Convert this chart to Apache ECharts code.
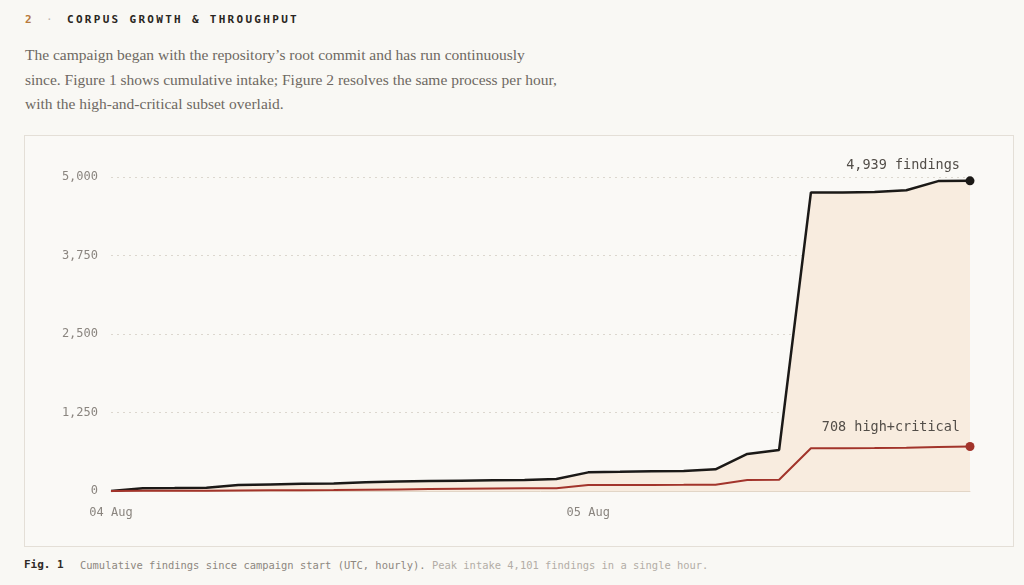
<!DOCTYPE html>
<html>
<head>
<meta charset="utf-8">
<script src="https://cdn.jsdelivr.net/npm/echarts@6/dist/echarts.min.js"></script>
<style>
  html, body { margin: 0; padding: 0; background: #f9f8f4; width: 1024px; height: 585px; overflow: hidden; }
  .abs { position: absolute; white-space: nowrap; }
  .mono { font-family: "DejaVu Sans Mono", "Liberation Mono", monospace; }
  #num { left: 25px; top: 14px; font-size: 11px; font-weight: bold; color: #b87a3d; line-height: 12px; }
  #dot { left: 46px; top: 14px; font-size: 11px; color: #bdb6ae; line-height: 12px; }
  #title { left: 67px; top: 14px; font-size: 11px; font-weight: bold; color: #2a2622; letter-spacing: 2.3px; line-height: 12px; }
  #para { left: 25px; top: 43px; font-family: "Liberation Serif", "DejaVu Serif", serif; font-size: 15.5px; line-height: 24.5px; color: #6e6862; }
  #box { position: absolute; left: 24px; top: 135px; width: 988px; height: 410px; border: 1px solid #e4dfd7; background: #faf9f6; }
  #chart { width: 988px; height: 410px; }
  #figlab { left: 24px; top: 558px; font-size: 11px; font-weight: bold; color: #2f2b27; line-height: 14px; }
  #figcap { left: 80px; top: 558px; font-size: 10.45px; color: #8d8780; line-height: 14px; }
  #figcap .light { color: #b3ada6; }
</style>
</head>
<body>
<div id="num" class="abs mono">2</div>
<div id="dot" class="abs mono">·</div>
<div id="title" class="abs mono">CORPUS GROWTH &amp; THROUGHPUT</div>
<div id="para" class="abs">The campaign began with the repository’s root commit and has run continuously<br>since. Figure 1 shows cumulative intake; Figure 2 resolves the same process per hour,<br>with the high-and-critical subset overlaid.</div>
<div id="box"><div id="chart"></div></div>
<div id="figlab" class="abs mono">Fig. 1</div>
<div id="figcap" class="abs mono">Cumulative findings since campaign start (UTC, hourly). <span class="light">Peak intake 4,101 findings in a single hour.</span></div>
<script>
// Time buckets (UTC)
const categories = [
  "04 Aug 00:00","04 Aug 01:36","04 Aug 03:12","04 Aug 04:48","04 Aug 06:24","04 Aug 08:00","04 Aug 09:36",
  "04 Aug 11:12","04 Aug 12:48","04 Aug 14:24","04 Aug 16:00","04 Aug 17:36","04 Aug 19:12","04 Aug 20:48",
  "04 Aug 22:24","05 Aug 00:00","05 Aug 01:36","05 Aug 03:12","05 Aug 04:48","05 Aug 06:24","05 Aug 08:00",
  "05 Aug 09:36","05 Aug 11:12","05 Aug 12:48","05 Aug 14:24","05 Aug 16:00","05 Aug 17:36","05 Aug 19:12"
];
// Cumulative findings
const allFindings = [
  0, 45, 48, 53, 95, 105, 115, 120, 140, 150, 160, 165, 170, 175,
  190, 297, 305, 315, 320, 345, 590, 654, 4755, 4755, 4760, 4790, 4935, 4939
];
// Cumulative high + critical findings
const highCritical = [
  0, 2, 3, 5, 8, 10, 12, 15, 20, 25, 30, 35, 38, 42,
  45, 95, 96, 97, 98, 100, 175, 180, 680, 682, 685, 690, 700, 708
];
const yTicks = { min: 0, max: 5000, interval: 1250 };
const xLabelIndices = [0, 15];
const endLabels = ["4,939 findings", "708 high+critical"];

const monoFont = '"DejaVu Sans Mono", "Liberation Mono", monospace';
const last = categories.length - 1;

const chart = echarts.init(document.getElementById('chart'), null, { renderer: 'canvas' });
chart.setOption({
  animation: false,
  backgroundColor: 'transparent',
  grid: { left: 86, right: 43, top: 41, bottom: 55, containLabel: false },
  xAxis: {
    type: 'category',
    data: categories,
    boundaryGap: false,
    axisLine: { show: true, lineStyle: { color: '#e2d6c7', width: 1 } },
    axisTick: { show: false },
    axisLabel: {
      interval: (idx) => xLabelIndices.indexOf(idx) !== -1,
      formatter: (v) => v.slice(0, 6),
      color: '#8a857f', fontFamily: monoFont, fontSize: 12, margin: 16
    },
    splitLine: { show: false }
  },
  yAxis: {
    type: 'value',
    min: yTicks.min, max: yTicks.max, interval: yTicks.interval,
    axisLine: { show: false },
    axisTick: { show: false },
    axisLabel: {
      formatter: (v) => v.toLocaleString('en-US'),
      color: '#8a857f', fontFamily: monoFont, fontSize: 12, margin: 13
    },
    splitLine: { show: true, lineStyle: { color: '#dcd7cf', type: [2, 4], width: 1 } }
  },
  series: [
    {
      name: 'findings',
      type: 'line',
      data: allFindings,
      showSymbol: false,
      lineStyle: { color: '#1b1917', width: 2.5 },
      itemStyle: { color: '#1b1917' },
      areaStyle: { color: '#f8ecdf', opacity: 1 },
      z: 3,
      markPoint: {
        symbol: 'circle',
        symbolSize: 9,
        itemStyle: { color: '#1b1917' },
        data: [{
          coord: [last, allFindings[last]],
          label: {
            show: true, formatter: endLabels[0], position: 'top', align: 'right',
            offset: [-10, 0], distance: 4,
            color: '#524d48', fontFamily: monoFont, fontSize: 13.5
          }
        }]
      }
    },
    {
      name: 'high+critical',
      type: 'line',
      data: highCritical,
      showSymbol: false,
      lineStyle: { color: '#a2342b', width: 2 },
      itemStyle: { color: '#a2342b' },
      z: 4,
      markPoint: {
        symbol: 'circle',
        symbolSize: 9,
        itemStyle: { color: '#a2342b' },
        data: [{
          coord: [last, highCritical[last]],
          label: {
            show: true, formatter: endLabels[1], position: 'top', align: 'right',
            offset: [-10, 0], distance: 8,
            color: '#524d48', fontFamily: monoFont, fontSize: 13.5
          }
        }]
      }
    }
  ]
});
</script>
</body>
</html>
